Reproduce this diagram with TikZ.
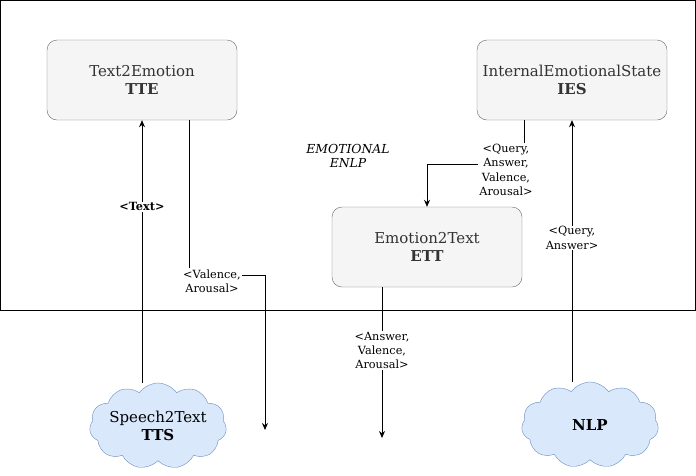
\documentclass[tikz,border=0pt]{standalone}
\usepackage{fontspec}
\setmainfont{DejaVu Serif}
\usetikzlibrary{arrows.meta,calc,shapes.symbols}
\definecolor{boxfill}{HTML}{F5F5F5}
\definecolor{boxline}{HTML}{666666}
\definecolor{boxtext}{HTML}{333333}
\definecolor{cloudfill}{HTML}{DAE8FC}
\definecolor{cloudline}{HTML}{6C8EBF}
\tikzset{
  module/.style={draw=boxline, fill=boxfill, text=boxtext, rounded corners=10pt,
    minimum width=190pt, minimum height=80pt, align=center, font=\fontsize{15}{18}\selectfont},
  service/.style={cloud, cloud puffs=11, cloud puff arc=110, aspect=1.6, draw=cloudline,
    fill=cloudfill, minimum width=137pt, minimum height=86pt, inner sep=0pt},
  servicetext/.style={align=center, font=\fontsize{15}{18}\selectfont},
  msg/.style={fill=white, inner sep=1pt, align=center, font=\fontsize{11.3}{14.3}\selectfont},
  arr/.style={-{Stealth[length=7pt,width=6pt]}, line width=0.8pt}
}
\begin{document}
\begin{tikzpicture}[x=1pt,y=-1pt]
\useasboundingbox (0,0) rectangle (696,475);
%ENLP frame
  \draw[line width=0.8pt] (0.5,0.5) rectangle (695.5,310);
  \node[font=\fontsize{12.4}{14}\selectfont\itshape, align=center] (enlp) at (348,156) {EMOTIONAL\\ENLP};
%modules
  \node[module] (tte) at (142,80) {Text2Emotion\\\textbf{TTE}};
  \node[module] (ies) at (572,80) {InternalEmotionalState\\\textbf{IES}};
  \node[module] (ett) at (427,247) {Emotion2Text\\\textbf{ETT}};
%clouds
  \node[service] (s2t) at (158,426) {};
  \node[servicetext] (s2ttext) at (s2t.center) {Speech2Text\\\textbf{TTS}};
  \node[service] (nlp) at (590,425) {};
  \node[servicetext] (nlptext) at (nlp.center) {\textbf{NLP}};
  \coordinate (vaout) at (265,430);
  \coordinate (ettout) at (382,438);
%connectors
  \draw[arr] (s2t.north -| tte.south) -- (tte.south)
    node[msg, pos=0.67] {\textbf{<Text>}};
  \draw[arr] ($(tte.south)!0.5!(tte.south east)$) |- ($(vaout)+(0,-155)$) -- (vaout);
  \node[msg] at (212,281) {<Valence,\\Arousal>};
  \draw[arr] (ett.south -| ettout) -- (ettout)
    node[msg, pos=0.42] {<Answer,\\Valence,\\Arousal>};
  \draw[arr] ($(ies.south west)!0.5!(ies.south)$) |- ($(ett.north)+(0,-42)$) -- (ett.north);
  \node[msg] at (506,170) {<Query,\\Answer,\\Valence,\\Arousal>};
  \draw[arr] (nlp.north -| ies.south) -- (ies.south)
    node[msg, pos=0.55] {<Query,\\Answer>};
\end{tikzpicture}
\end{document}
